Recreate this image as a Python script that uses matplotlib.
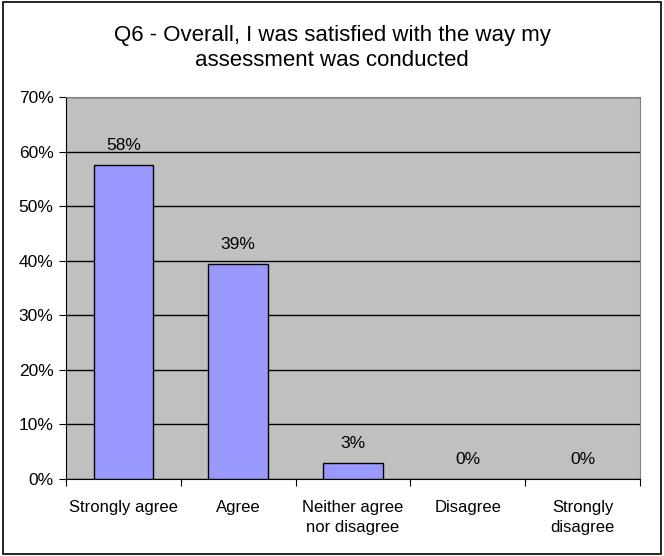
import matplotlib
matplotlib.use("Agg")
import matplotlib.pyplot as plt
from matplotlib.patches import Rectangle
from matplotlib.ticker import FixedLocator

categories = ["Strongly agree", "Agree", "Neither agree\nnor disagree", "Disagree", "Strongly\ndisagree"]
values = [57.6, 39.4, 3.0, 0.0, 0.0]
labels = ["58%", "39%", "3%", "0%", "0%"]
yticks = [0, 10, 20, 30, 40, 50, 60, 70]

plt.rcParams['font.family'] = ['Liberation Sans', 'DejaVu Sans']

fig = plt.figure(figsize=(6.64, 5.56), dpi=100)
fig.patches.append(Rectangle((0.004, 0.004), 0.992, 0.992, transform=fig.transFigure,
                             fill=False, edgecolor='black', linewidth=1.2))
ax = fig.add_axes([66/664, 1-479/556, (640-66)/664, (479-97)/556])
ax.set_facecolor('#C0C0C0')
x = list(range(len(categories)))
lws = [1 if v > 0 else 0 for v in values]
ax.bar(x, values, width=0.52, color='#9999FF', edgecolor='black', linewidth=lws, zorder=3)
for xi, v, lab in zip(x, values, labels):
    ax.text(xi, v + 2.2, lab, ha='center', va='bottom', fontsize=12.5, zorder=4)
ax.set_xlim(-0.5, len(categories) - 0.5)
ax.set_ylim(0, 70)
ax.set_yticks(yticks)
ax.set_yticklabels([f"{t}%" for t in yticks], fontsize=12.5)
ax.yaxis.grid(True, color='black', linewidth=1, zorder=1)
ax.set_axisbelow(True)
ax.xaxis.set_major_locator(FixedLocator([i - 0.5 for i in range(len(categories) + 1)]))
ax.xaxis.set_minor_locator(FixedLocator(x))
ax.set_xticklabels([])
ax.set_xticklabels(categories, minor=True, fontsize=12, linespacing=1.4)
ax.tick_params(axis='x', which='minor', length=0, pad=15)
ax.tick_params(axis='x', which='major', length=5, direction='out')
ax.tick_params(axis='y', length=5, direction='out', pad=4)
for s in ['top', 'right']:
    ax.spines[s].set_color('#808080')
ax.spines['left'].set_color('black')
ax.spines['bottom'].set_color('black')
fig.text(0.5, 1-48/556, "Q6 - Overall, I was satisfied with the way my\nassessment was conducted",
         ha='center', va='center', fontsize=16, linespacing=1.2)
fig.savefig("out.png", dpi=100)
